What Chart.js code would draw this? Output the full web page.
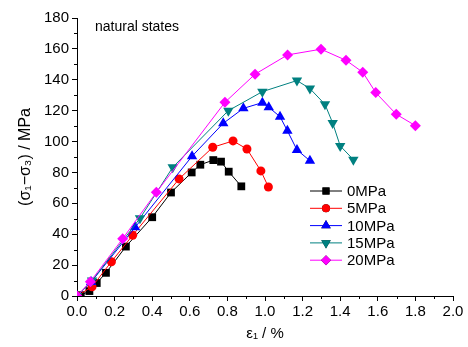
<!DOCTYPE html>
<html>
<head>
<meta charset="utf-8">
<script src="https://cdn.jsdelivr.net/npm/chart.js@4"></script>
<style>
  html, body { margin: 0; padding: 0; background: #fff; }
  #wrap { width: 468px; height: 347px; }
</style>
</head>
<body>
<div id="wrap"><canvas id="chart" width="468" height="347"></canvas></div>
<script>
// confining pressure labels
const labels = ['0MPa', '5MPa', '10MPa', '15MPa', '20MPa'];
// axial strain (%) per series
const strain0 = [0.02, 0.066, 0.105, 0.154, 0.26, 0.40, 0.50, 0.61, 0.656, 0.725, 0.766, 0.807, 0.874];
const strain5 = [0, 0.08, 0.183, 0.296, 0.543, 0.722, 0.83, 0.904, 0.978, 1.018];
const strain10 = [0, 0.075, 0.309, 0.612, 0.778, 0.885, 0.986, 1.02, 1.08, 1.119, 1.17, 1.239];
const strain15 = [0, 0.08, 0.335, 0.509, 0.805, 0.986, 1.17, 1.239, 1.319, 1.36, 1.40, 1.47];
const strain20 = [0, 0.071, 0.243, 0.422, 0.787, 0.947, 1.12, 1.298, 1.431, 1.52, 1.589, 1.698, 1.80];
// deviatoric stress (MPa) per series
const stress0 = [0.5, 3.2, 8.4, 15, 32, 51, 67, 80, 85, 88, 87, 80.5, 71];
const stress5 = [0, 6, 22.2, 39.3, 75.8, 96.3, 100.4, 95.2, 81, 70.6];
const stress10 = [0, 9, 44.5, 90.5, 111.8, 121.5, 125.2, 122.2, 116.1, 107, 94.6, 87.6];
const stress15 = [0, 10, 50.3, 83.3, 120, 132.3, 139.5, 134.3, 124.1, 112, 97.2, 88.3];
const stress20 = [0, 9.3, 37.1, 67.1, 125.4, 143.6, 156.1, 159.8, 152.6, 144.9, 131.7, 117.7, 110.3];

const xs = [strain0, strain5, strain10, strain15, strain20];
const ys = [stress0, stress5, stress10, stress15, stress20];
const colors = ['#000000', '#ff0000', '#0000ff', '#008080', '#ff00ff'];
const styles = ['rect', 'circle', 'triangle', 'triangle', 'rectRot'];
const rotations = [0, 0, 0, 180, 0];
const radii = [5.5, 4.5, 6, 6, 5.5];

const FONT = '"Liberation Sans", Arial, sans-serif';

const datasets = labels.map((lab, i) => ({
  label: lab,
  data: xs[i].map((x, j) => ({ x: x, y: ys[i][j] })),
  borderColor: colors[i],
  backgroundColor: colors[i],
  borderWidth: 1,
  pointStyle: styles[i],
  pointRotation: rotations[i],
  pointRadius: radii[i],
  pointBorderWidth: 0,
  tension: 0,
  order: labels.length - i
}));

// minor ticks + text + legend drawn on top
const extras = {
  id: 'extras',
  afterDraw(chart) {
    const c = chart.ctx;
    const x = chart.scales.x, y = chart.scales.y;
    c.save();
    c.strokeStyle = '#000';
    c.lineWidth = 1;
    c.beginPath();
    for (let v = 10; v < 180; v += 20) {
      const py = Math.round(y.getPixelForValue(v)) + 0.5;
      c.moveTo(x.left, py); c.lineTo(x.left - 3, py);
    }
    for (let v = 0.1; v < 2.0; v += 0.2) {
      const px = Math.round(x.getPixelForValue(v)) + 0.5;
      c.moveTo(px, y.bottom); c.lineTo(px, y.bottom + 3);
    }
    c.stroke();

    c.fillStyle = '#000';
    c.font = '14px ' + FONT;
    c.textBaseline = 'middle';
    c.fillText('natural states', 95, 27);

    // legend
    c.font = '15px ' + FONT;
    chart.data.datasets.forEach((ds, i) => {
      const ly = 191 + i * 17.3;
      c.strokeStyle = ds.borderColor;
      c.beginPath();
      c.moveTo(310, ly); c.lineTo(342, ly);
      c.stroke();
      Chart.helpers.drawPoint(c, {
        pointStyle: ds.pointStyle, rotation: ds.pointRotation,
        radius: ds.pointRadius - 0.5, borderWidth: 0
      }, 326, ly);
      c.fillStyle = ds.backgroundColor;
      c.fill();
      c.fillStyle = '#000';
      c.fillText(ds.label, 347, ly + 1);
    });
    c.restore();
  }
};

const ctx = document.getElementById('chart').getContext('2d');
new Chart(ctx, {
  type: 'line',
  data: { datasets: datasets },
  options: {
    responsive: false,
    animation: false,
    layout: { padding: { top: 18, right: 15, left: 0, bottom: 0 } },
    plugins: { legend: { display: false }, tooltip: { enabled: false } },
    scales: {
      x: {
        type: 'linear', min: 0, max: 2.0,
        border: { display: true, color: '#000', width: 1 },
        grid: { drawOnChartArea: false, drawTicks: true, tickLength: 5, color: '#000' },
        ticks: {
          stepSize: 0.2, color: '#000', padding: 2,
          font: { family: FONT, size: 15 },
          callback: v => v.toFixed(1)
        },
        title: { display: true, text: 'ε₁ / %', color: '#000', font: { family: FONT, size: 15 }, padding: { top: 6 } },
        afterFit(s) { s.height = 51; }
      },
      y: {
        type: 'linear', min: 0, max: 180,
        border: { display: true, color: '#000', width: 1 },
        grid: { drawOnChartArea: false, drawTicks: true, tickLength: 5, color: '#000' },
        ticks: {
          stepSize: 20, color: '#000', padding: 3,
          font: { family: FONT, size: 15 }
        },
        title: { display: true, text: '(σ₁−σ₃) / MPa', color: '#000', font: { family: FONT, size: 16 }, padding: { top: 16, bottom: 0 } },
        afterFit(s) { s.width = 77; }
      }
    }
  },
  plugins: [extras]
});
</script>
</body>
</html>
